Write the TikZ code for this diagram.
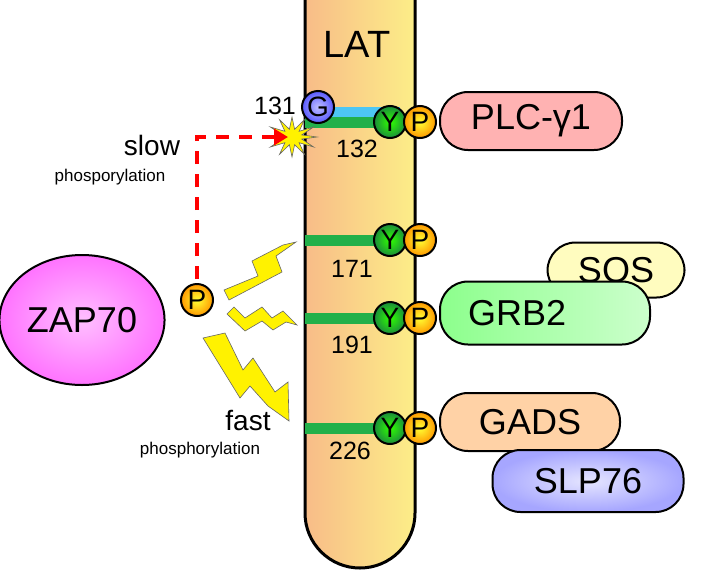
\documentclass[tikz,border=0pt]{standalone}
\usepackage{fontspec}
\setmainfont{Liberation Sans}
\usetikzlibrary{shapes.geometric,arrows.meta}
\definecolor{latL}{HTML}{F8BC88}
\definecolor{latR}{HTML}{FCEE88}
\definecolor{ygreen}{HTML}{22B04A}
\begin{document}
\begin{tikzpicture}[x=1pt,y=-1pt,
  site/.style={circle,draw=black,line width=2pt,inner sep=0pt,minimum size=32pt,font=\fontsize{28}{28}\selectfont},
  ycirc/.style={site,inner color=green!75!lime,outer color=ygreen!80!black},
  pcirc/.style={site,inner color=yellow!80,outer color=orange!80!yellow},
  prot/.style={rounded corners=28pt,draw=black,line width=2pt,minimum height=58pt,font=\fontsize{36}{36}\selectfont},
  num/.style={font=\fontsize{25}{25}\selectfont},
  bar/.style={ygreen,line width=11pt},
  bolt/.style={fill=yellow,draw=black!60,line width=0.6pt}]
\useasboundingbox (0,0) rectangle (708,573);
% LAT
\shade[left color=latL,right color=latR] (305,-2) -- (305,513) arc[start angle=180,end angle=360,x radius=55,y radius=-55] -- (415,-2) -- cycle;
\draw[line width=3pt] (305,-2) -- (305,513) arc[start angle=180,end angle=360,x radius=55,y radius=-55] -- (415,-2);
\node[font=\fontsize{38}{38}\selectfont] (lat) at (357,44) {LAT};
% sites
\draw[cyan!70,line width=11pt] (318,112) -- (400,112);
\foreach \y/\n in {122/132,240/171,318/191,428/226}{
  \draw[bar] (305,\y) -- (390,\y);
  \node[ycirc] (y\n) at (390,\y) {Y};
  \node[pcirc] (p\n) at (420,\y) {P};
}
\node[site,inner color=blue!25,outer color=blue!65] (g) at (318,107) {G};
\node[num] at (275,106) {131};
\node[num] at (357,149) {132};
\node[num] at (352,269) {171};
\node[num] at (352,345) {191};
\node[num] at (350,451) {226};
% starburst
\coordinate (star) at (292,137);
\fill[yellow,draw=black!60,line width=0.6pt] plot[samples at={0,15,...,345}] ({292+(mod(\x,30)==0 ? 25 : 10)*cos(\x)},{137+(mod(\x,30)==0 ? 20 : 8)*sin(\x)}) -- cycle;
% proteins
\node[prot,minimum width=182pt,fill=red!30] (plc) at (531,121) {PLC-γ1};
\node[prot,minimum width=137pt,minimum height=55pt,fill=yellow!25] (sos) at (616,270) {SOS};
\node[prot,minimum width=210pt,minimum height=63pt,left color=green!45,right color=green!20,text width=190pt,align=left] (grb) at (545,313) {\hspace*{18pt}GRB2};
\node[prot,minimum width=180pt,fill=orange!35] (gads) at (530,422) {GADS};
\node[prot,minimum width=191pt,minimum height=62pt,inner color=blue!10,outer color=blue!35] (slp) at (588,481) {SLP76};
% ZAP70
\node[ellipse,draw=black,line width=2pt,minimum width=162pt,minimum height=130pt,inner color=magenta!25,outer color=magenta!55,font=\fontsize{36}{36}\selectfont] (zap) at (82,320) {ZAP70};
\node[pcirc] (pz) at (197,300) {P};
% slow path
\draw[red,line width=4.5pt,dash pattern=on 13pt off 10pt,-{Triangle[length=14pt,width=16pt]}] (pz.north) ++(0,-4) |- ([xshift=-4pt]star);
\node[font=\fontsize{28}{28}\selectfont] at (152,145) {slow};
\node[font=\fontsize{17}{17}\selectfont] at (110,177) {phosporylation};
\node[font=\fontsize{28}{28}\selectfont] at (248,420) {fast};
\node[font=\fontsize{17}{17}\selectfont] at (200,450) {phosphorylation};
% bolts
\draw[bolt] (224,290) -- (258,276) -- (252,261) -- (283,245) -- (296,242) -- (276,256) -- (282,272) -- (229,300) -- cycle;
\draw[bolt] (227,314) -- (245,331) -- (262,321) -- (273,330) -- (286,322) -- (297,325) -- (283,311) -- (272,318) -- (262,307) -- (245,318) -- (234,307) -- cycle;
\draw[bolt] (203,338) -- (225,333) -- (243,370) -- (253,358) -- (275,392) -- (288,382) -- (289,421) -- (268,406) -- (250,386) -- (240,398) -- cycle;
\end{tikzpicture}
\end{document}
